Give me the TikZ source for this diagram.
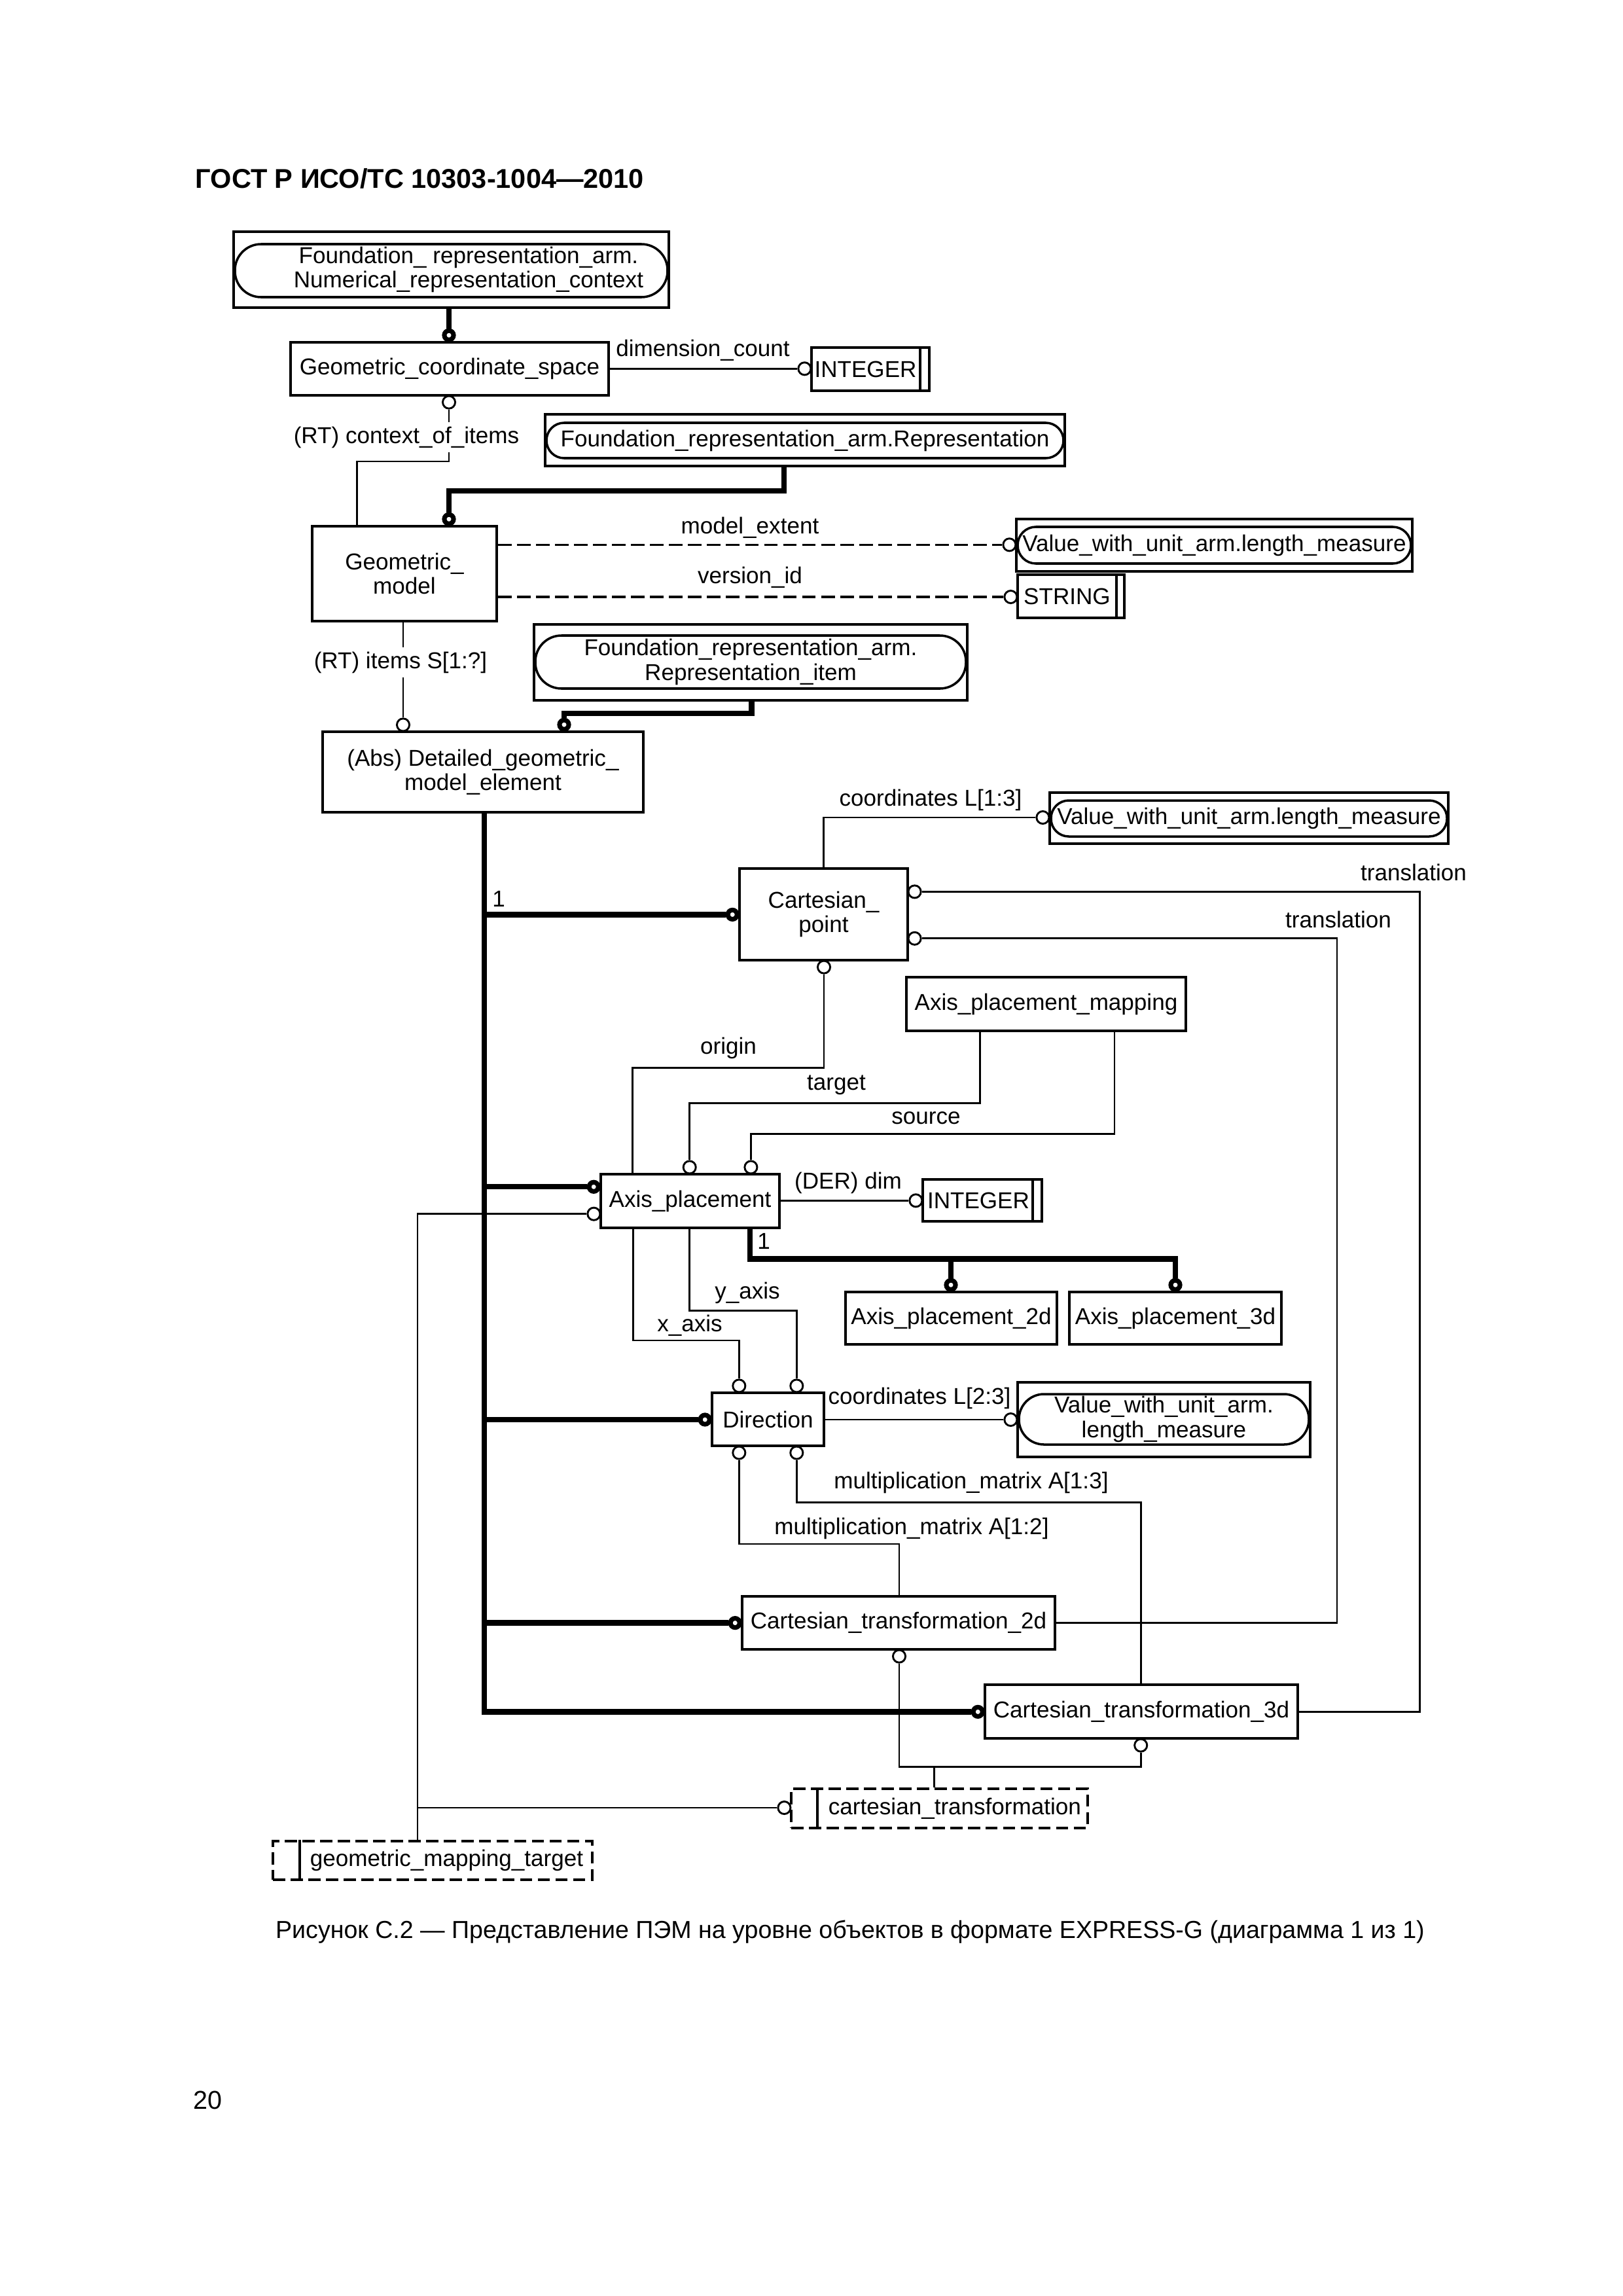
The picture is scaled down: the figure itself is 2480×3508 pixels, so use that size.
\documentclass[tikz,border=0pt]{standalone}
\usepackage{fontspec}
\setmainfont{Liberation Sans}
\usetikzlibrary{calc}
\newcommand\pxu{0.2409pt}
\newcommand\dfont{\fontsize{8.45}{9}\selectfont}
\newcommand\ebox[7][]{\node[ent,minimum width={(#5-#3)*\pxu},minimum height={(#6-#4)*\pxu},#1] (#2) at ({(#3+#5)/2},{(#4+#6)/2}) {#7};}
\tikzset{
  ent/.style={draw, line width=0.85pt, inner sep=0pt, align=center, font=\dfont},
  sel/.style={dash pattern=on 4.5pt off 2pt},
  rel/.style={line width=0.7pt},
  thk/.style={line width=2pt},
  dsh/.style={line width=0.8pt, dash pattern=on 5pt off 2pt},
  oc/.style={circle, draw, fill=white, line width=0.7pt, minimum size=4.6pt, inner sep=0pt},
  toc/.style={circle, draw, fill=white, line width=1.7pt, minimum size=3.4pt, inner sep=0pt},
  lbl/.style={font=\dfont, inner sep=0pt},
  wlbl/.style={lbl, fill=white, inner xsep=1pt, inner ysep=1.6pt},
}
\begin{document}
\begin{tikzpicture}[x=0.2409pt,y=-0.2409pt]
\path[use as bounding box] (0,0) rectangle (2480,3508);

% header, caption, page number
\node[anchor=base west, inner sep=0pt, font=\bfseries\fontsize{10}{12}\selectfont] (hdr) at (298,287) {ГОСТ Р ИСО/ТС 10303-1004—2010};
\node[inner sep=0pt, font=\fontsize{9.05}{11}\selectfont] (cap) at (1299,2952) {Рисунок С.2 — Представление ПЭМ на уровне объектов в формате EXPRESS-G (диаграмма 1 из 1)};
\node[anchor=base west, inner sep=0pt, font=\fontsize{9.5}{11}\selectfont] (pg) at (295,3222) {20};

% boxes
\ebox{nrc}{357}{354}{1022}{470}{}
\ebox[rounded corners=9.6pt]{nrcp}{359}{373}{1020}{454}{}
\node[lbl,align=center] (nrct) at (716,412) {Foundation\_ representation\_arm.\\Numerical\_representation\_context};
\ebox{gcs}{444}{523}{930}{604}{Geometric\_coordinate\_space}
\ebox{int1}{1240}{531}{1420}{597}{INTEGER\hspace*{3.6pt}}
\ebox{rep}{833}{633}{1627}{712}{}
\ebox[rounded corners=6.5pt]{repp}{835}{646}{1625}{700}{Foundation\_representation\_arm.Representation}
\ebox{gm}{477}{804}{759}{949}{Geometric\_\\model}
\ebox{val1}{1553}{793}{2158}{873}{}
\ebox[rounded corners=6.7pt]{val1p}{1555}{805}{2156}{861}{Value\_with\_unit\_arm.length\_measure}
\ebox{str}{1555}{878}{1718}{944}{STRING\hspace*{2.9pt}}
\ebox{ritem}{816}{954}{1478}{1070}{}
\ebox[rounded corners=9.6pt]{ritemp}{818}{971}{1476}{1052}{Foundation\_representation\_arm.\\Representation\_item}
\ebox{dgme}{493}{1118}{983}{1241}{(Abs) Detailed\_geometric\_\\model\_element}
\ebox{val2}{1604}{1211}{2213}{1289}{}
\ebox[rounded corners=6.5pt]{val2p}{1606}{1223}{2211}{1278}{Value\_with\_unit\_arm.length\_measure}
\ebox{cp}{1130}{1327}{1387}{1467}{Cartesian\_\\point}
\ebox{apm}{1385}{1493}{1812}{1575}{Axis\_placement\_mapping}
\ebox{ap}{918}{1794}{1191}{1876}{Axis\_placement}
\ebox{int2}{1410}{1802}{1592}{1866}{INTEGER\hspace*{2.9pt}}
\ebox{aptwo}{1292}{1974}{1615}{2054}{Axis\_placement\_2d}
\ebox{apthree}{1634}{1974}{1958}{2054}{Axis\_placement\_3d}
\ebox{dir}{1088}{2128}{1259}{2209}{Direction}
\ebox{val3}{1555}{2112}{2002}{2226}{}
\ebox[rounded corners=9.2pt]{val3p}{1557}{2130}{2000}{2207}{Value\_with\_unit\_arm.\\length\_measure}
\ebox{cttwo}{1134}{2439}{1612}{2520}{Cartesian\_transformation\_2d}
\ebox{ctthree}{1505}{2574}{1983}{2656}{Cartesian\_transformation\_3d}
\ebox[sel]{ctsel}{1209}{2733}{1662}{2793}{\hspace*{11.3pt}cartesian\_transformation}
\ebox[sel]{gmt}{417}{2813}{905}{2872}{\hspace*{10.4pt}geometric\_mapping\_target}

% inner lines of simple and select types
\draw[line width=0.85pt] ($(int1.north east)+(-16,0)$) -- ($(int1.south east)+(-16,0)$);
\draw[line width=0.85pt] ($(str.north east)+(-14,0)$) -- ($(str.south east)+(-14,0)$);
\draw[line width=0.85pt] ($(int2.north east)+(-16,0)$) -- ($(int2.south east)+(-16,0)$);
\draw[line width=0.85pt] ($(ctsel.north west)+(42,0)$) -- ($(ctsel.south west)+(42,0)$);
\draw[line width=0.85pt] ($(gmt.north west)+(43,0)$) -- ($(gmt.south west)+(43,0)$);

% circles (thick)
\node[toc] (tc1) at (686,512.2) {};
\node[toc] (tc2) at (686,793.2) {};
\node[toc] (tc3) at (862,1107.2) {};
\node[toc] (tc4) at (1119.2,1397.4) {};
\node[toc] (tc5) at (907.2,1813.3) {};
\node[toc] (tc6) at (1077.2,2169) {};
\node[toc] (tc7) at (1123.2,2479.6) {};
\node[toc] (tc8) at (1494.2,2615.4) {};
\node[toc] (tc9) at (1453,1963.2) {};
\node[toc] (tc10) at (1796,1963.2) {};
% circles (thin)
\node[oc] (c1) at (1229.4,563.3) {};
\node[oc] (c2) at (686,614.6) {};
\node[oc] (c3) at (1542.4,832.3) {};
\node[oc] (c4) at (1544.4,912) {};
\node[oc] (c5) at (616,1107.4) {};
\node[oc] (c6) at (1593.4,1249) {};
\node[oc] (c7) at (1397.6,1362.4) {};
\node[oc] (c8) at (1397.6,1433.8) {};
\node[oc] (c9) at (1259,1477.6) {};
\node[oc] (c10) at (1053.7,1783.4) {};
\node[oc] (c11) at (1147.4,1783.4) {};
\node[oc] (c12) at (1399.4,1834.3) {};
\node[oc] (c13) at (907.4,1854.7) {};
\node[oc] (c14) at (1129.3,2117.4) {};
\node[oc] (c15) at (1217.3,2117.4) {};
\node[oc] (c16) at (1129.3,2219.6) {};
\node[oc] (c17) at (1217.3,2219.6) {};
\node[oc] (c18) at (1544.4,2169) {};
\node[oc] (c19) at (1374,2530.6) {};
\node[oc] (c20) at (1743.2,2666.6) {};
\node[oc] (c21) at (1198.4,2762) {};

% bend points
\coordinate (b1) at (545.6,705);
\coordinate (b2) at (1198,750);
\coordinate (b3) at (1148.5,1090);
\coordinate (tr) at (740,2615.4);
\coordinate (b5) at (2169.3,2615.4);
\coordinate (b6) at (2043,2479.5);
\coordinate (b7) at (966.3,1631.5);
\coordinate (b8) at (1497.7,1685.7);
\coordinate (b10) at (1703,1732.3);
\coordinate (b11) at (638,2762);
\coordinate (b12) at (1146.2,1923.6);
\coordinate (b13) at (1796,1923.6);
\coordinate (b14) at (967.6,2048);
\coordinate (b15) at (1053.7,2002.7);
\coordinate (b16) at (1743.2,2295.3);
\coordinate (b17) at (1374,2359);
\coordinate (b18) at (1374,2699.6);
\coordinate (b19) at (1427.6,2699.6);

% connectors
\draw[thk] (nrc.south -| tc1) -- (tc1);
\draw[rel] (c1 -| gcs.east) -- (c1);
\draw[rel] (c2) |- (b1) -- (b1 |- gm.north);
\draw[thk] (b2 |- rep.south) -- (b2) -| (tc2);
\draw[dsh] (c3 -| gm.east) -- (c3);
\draw[dsh] (c4 -| gm.east) -- (c4);
\draw[rel] (c5 |- gm.south) -- (c5);
\draw[thk] (b3 |- ritem.south) -- (b3) -| (tc3);
\draw[thk] (tr |- dgme.south) -- (tr) -- (tc8);
\draw[thk] (tc4 -| tr) -- (tc4);
\draw[thk] (tc5 -| tr) -- (tc5);
\draw[thk] (tc6 -| tr) -- (tc6);
\draw[thk] (tc7 -| tr) -- (tc7);
\draw[rel] (cp.north) |- (c6);
\draw[rel] (c7) -| (b5) -- (b5 -| ctthree.east);
\draw[rel] (c8) -| (b6) -- (b6 -| cttwo.east);
\draw[rel] (c9) |- (b7) -- (b7 |- ap.north);
\draw[rel] (b8 |- apm.south) -- (b8) -| (c10);
\draw[rel] (b10 |- apm.south) -- (b10) -| (c11);
\draw[rel] (c12 -| ap.east) -- (c12);
\draw[rel] (c13) -| (b11 |- gmt.north);
\draw[rel] (b11) -- (c21);
\draw[thk] (b12 |- ap.south) -- (b12) -- (b13) -- (tc10);
\draw[thk] (tc9 |- b12) -- (tc9);
\draw[rel] (b14 |- ap.south) -- (b14) -| (c14);
\draw[rel] (b15 |- ap.south) -- (b15) -| (c15);
\draw[rel] (c18 -| dir.east) -- (c18);
\draw[rel] (c17) |- (b16) -- (b16 |- ctthree.north);
\draw[rel] (c16) |- (b17) -- (b17 |- cttwo.north);
\draw[rel] (c19) -- (b18) -| (c20);
\draw[rel] (b19) -- (b19 |- ctsel.north);

% labels
\node[lbl] (l1) at (1074,535) {dimension\_count};
\node[wlbl] (l2) at (621,668) {(RT) context\_of\_items};
\node[lbl] (l3) at (1146,806) {model\_extent};
\node[lbl] (l4) at (1146,882) {version\_id};
\node[wlbl] (l5) at (612,1012) {(RT) items S[1:?]};
\node[lbl] (l6) at (1422,1222) {coordinates L[1:3]};
\node[lbl] (l7) at (762,1373) {1};
\node[lbl] (l8) at (2160,1333) {translation};
\node[lbl] (l9) at (2045,1405) {translation};
\node[lbl] (l10) at (1113,1601) {origin};
\node[lbl] (l11) at (1278,1658) {target};
\node[lbl] (l12) at (1415,1708) {source};
\node[lbl] (l13) at (1296,1807) {(DER) dim};
\node[lbl] (l14) at (1167,1896) {1};
\node[lbl] (l15) at (1142,1975) {y\_axis};
\node[lbl] (l16) at (1054,2025) {x\_axis};
\node[lbl] (l17) at (1405,2136) {coordinates L[2:3]};
\node[lbl] (l18) at (1484,2265) {multiplication\_matrix A[1:3]};
\node[lbl] (l19) at (1393,2335) {multiplication\_matrix A[1:2]};
\end{tikzpicture}
\end{document}
